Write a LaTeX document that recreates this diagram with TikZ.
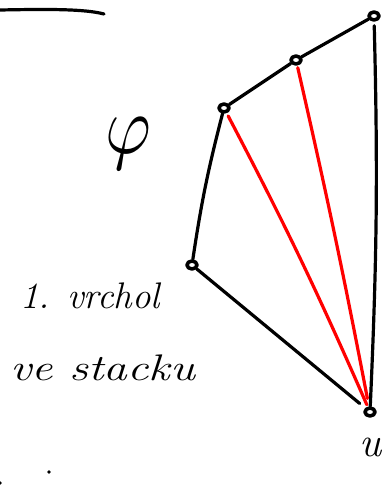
\documentclass[tikz,border=0pt]{standalone}
\usepackage{fontspec}
\usetikzlibrary{shapes.geometric}
\begin{document}
\begin{tikzpicture}[x=1pt,y=-1pt,line cap=round,line join=round,
  vtx/.style={draw=black,line width=3.6pt,ellipse,inner sep=0pt,minimum width=10pt,minimum height=8pt},
  edge/.style={draw=black,line width=3.2pt},
  rededge/.style={draw=red,line width=3.2pt},
  hand/.style={font=\fontsize{37}{40}\selectfont\itshape,inner sep=0pt}]
\useasboundingbox (0,0) rectangle (383,485);
% vertices
\node[vtx] (A) at (374,16) {};
\node[vtx] (B) at (296,60) {};
\node[vtx] (C) at (224,108) {};
\node[vtx] (D) at (192,265) {};
\node[vtx] (E) at (370,412) {};
% black polygon edges
\draw[edge] (A) -- (B);
\draw[edge] (B) -- (C);
\draw[edge] (C) to[bend right=3] (D);
\draw[edge,shorten >=7pt] (D) -- (E);
\draw[edge,shorten <=4pt] (A) to[bend left=2] (E);
% red diagonals
\draw[rededge,shorten <=3pt,shorten >=2pt] (C) to[bend left=2] (E);
\draw[rededge,shorten <=2pt,shorten >=8pt] (B) to[bend left=1] (E);
% top-left stroke
\coordinate (tl0) at (0,10);
\coordinate (tl1) at (104,14);
\draw[edge] (tl0) .. controls (50,9) and (85,9) .. (tl1);
% labels
\node[inner sep=0pt] (phi) at (128,144) {\scalebox{7}[8.3]{$\varphi$}};
\node[hand,anchor=base west] (t1) at (20,308) {1. vrchol};
\node[hand,anchor=base west] (t2) at (10,380) {\scalebox{1.28}[1]{ve stacku}};
\node[hand,anchor=base west,font=\fontsize{42}{44}\selectfont\itshape] (u) at (359,456) {u};
\fill (49,472) circle (1.9pt);
\fill (0,483) circle (1.9pt);
\end{tikzpicture}
\end{document}
